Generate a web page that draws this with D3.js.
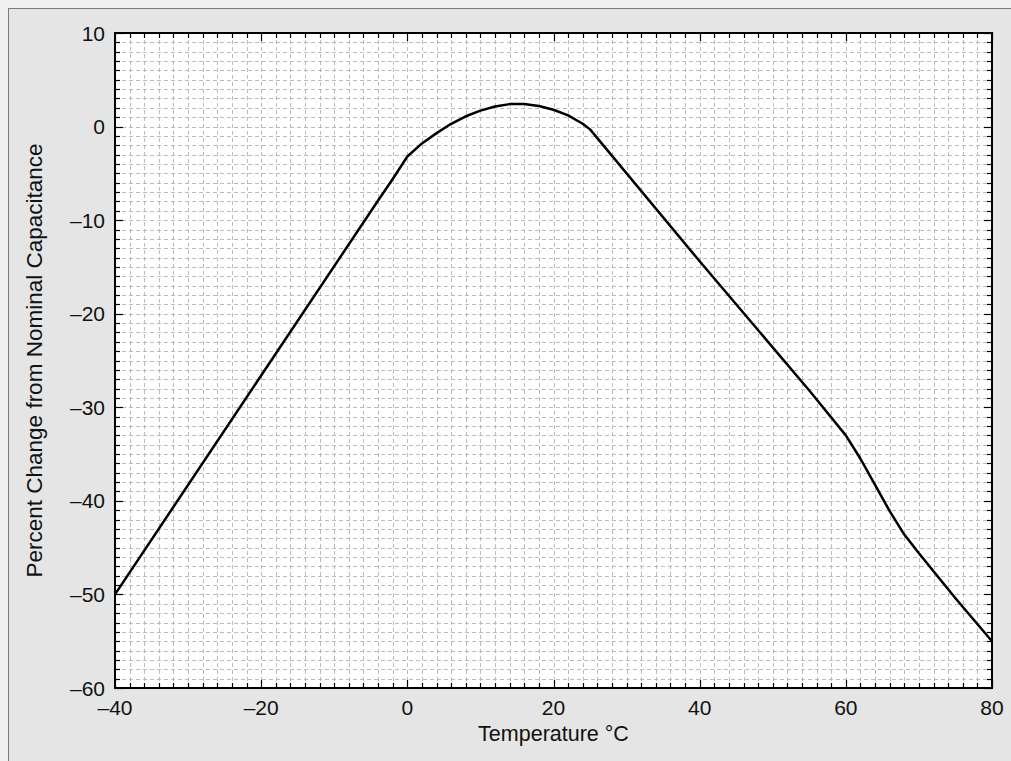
<!DOCTYPE html>
<html><head><meta charset="utf-8">
<script src="https://cdn.jsdelivr.net/npm/d3@7"></script>
<style>body{margin:0;background:#f0f0f0;}svg{display:block;font-family:"Liberation Sans",Arial,sans-serif;}</style>
</head><body>
<script>
const temps = [-40,-20,-4,-2,0,2,4,6,8,10,12,14,16,18,20,22,24,25,40,55,60,62,64,66,68,70,75,80];
const change = [-50,-26.6,-7.9,-5.6,-3.2,-1.8,-0.7,0.3,1.1,1.7,2.15,2.4,2.4,2.2,1.8,1.2,0.3,-0.3,-14.4,-28.2,-33,-35.5,-38.3,-41.1,-43.6,-45.6,-50.4,-55];
const xTicks = [-40,-20,0,20,40,60,80];
const yTicks = [-60,-50,-40,-30,-20,-10,0,10];
const xTitle = "Temperature \u00B0C";
const yTitle = "Percent Change from Nominal Capacitance";

const W=1011,H=761;
const m={l:115,t:33,r:1011-992,b:761-688};
const svg=d3.select("body").append("svg").attr("width",W).attr("height",H);
svg.append("rect").attr("x",0).attr("y",0).attr("width",W).attr("height",H).attr("fill","#f0f0f0");
svg.append("rect").attr("x",8.5).attr("y",8.5).attr("width",W+10).attr("height",H+10).attr("fill","#e5e5e5").attr("stroke","#7a7a7a");

const x=d3.scaleLinear().domain([-40,80]).range([m.l,W-m.r]);
const y=d3.scaleLinear().domain([-60,10]).range([H-m.b,m.t]);
const pw=W-m.r-m.l, ph=H-m.b-m.t;
svg.append("rect").attr("x",m.l).attr("y",m.t).attr("width",pw).attr("height",ph).attr("fill","#fff");

const xMinor=d3.range(-40,80.001,2), yMinor=d3.range(-60,10.001,1);
const g=svg.append("g");
g.selectAll(".gx").data(xMinor.slice(1,-1)).join("line")
 .attr("x1",d=>Math.round(x(d))+0.5).attr("x2",d=>Math.round(x(d))+0.5).attr("y1",m.t).attr("y2",m.t+ph)
 .attr("stroke","#ababab").attr("stroke-width",0.8).attr("stroke-dasharray","4,3");
g.selectAll(".gy").data(yMinor.slice(1,-1)).join("line")
 .attr("y1",d=>Math.round(y(d))+0.5).attr("y2",d=>Math.round(y(d))+0.5).attr("x1",m.l).attr("x2",m.l+pw)
 .attr("stroke","#ababab").attr("stroke-width",0.8).attr("stroke-dasharray","4,3");

const tk=svg.append("g").attr("stroke","#000").attr("stroke-width",1.2);
xMinor.forEach(v=>{const major=xTicks.includes(v);const L=major?8:5;const xx=Math.round(x(v))+0.5;
 tk.append("line").attr("x1",xx).attr("x2",xx).attr("y1",m.t+ph).attr("y2",m.t+ph-L);
 tk.append("line").attr("x1",xx).attr("x2",xx).attr("y1",m.t).attr("y2",m.t+L);});
yMinor.forEach(v=>{const major=yTicks.includes(v);const L=major?8:5;const yy=Math.round(y(v))+0.5;
 tk.append("line").attr("y1",yy).attr("y2",yy).attr("x1",m.l).attr("x2",m.l+L);
 tk.append("line").attr("y1",yy).attr("y2",yy).attr("x1",m.l+pw).attr("x2",m.l+pw-L);});

svg.append("rect").attr("x",m.l).attr("y",m.t).attr("width",pw).attr("height",ph).attr("fill","none").attr("stroke","#000").attr("stroke-width",2);

const fmt=d=>d<0?"\u2013"+Math.abs(d):String(d);
svg.append("g").selectAll("text").data(xTicks).join("text")
 .attr("x",d=>x(d)).attr("y",m.t+ph+27).attr("text-anchor","middle").attr("font-size",21).attr("fill","#111").text(fmt);
svg.append("g").selectAll("text").data(yTicks).join("text")
 .attr("x",m.l-10).attr("y",d=>y(d)+7.5).attr("text-anchor","end").attr("font-size",21).attr("fill","#111").text(fmt);

svg.append("text").attr("x",x(20)).attr("y",741).attr("text-anchor","middle").attr("font-size",21.5).attr("fill","#111").text(xTitle);
svg.append("text").attr("transform",`translate(42,${m.t+ph/2}) rotate(-90)`).attr("text-anchor","middle").attr("font-size",22.5).attr("fill","#111").text(yTitle);

const line=d3.line().x((d,i)=>x(temps[i])).y(d=>y(d)).curve(d3.curveLinear);
svg.append("path").datum(change).attr("d",line).attr("fill","none").attr("stroke","#000").attr("stroke-width",2.5).attr("stroke-linejoin","round");
</script>
</body></html>
